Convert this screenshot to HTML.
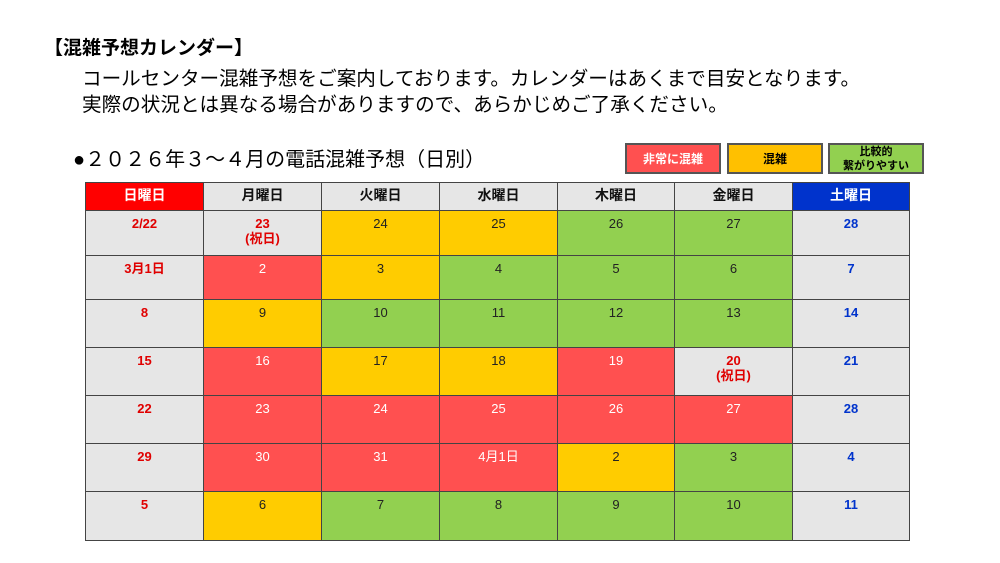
<!DOCTYPE html>
<html><head><meta charset="utf-8"><style>
body{margin:0;width:1000px;height:563px;background:#fff;position:relative;overflow:hidden;font-family:"Liberation Sans","Noto Sans CJK JP",sans-serif;}
.a{position:absolute;white-space:nowrap}
.c{position:absolute;box-sizing:border-box;border:1px solid #444;text-align:center;font-size:13px;color:#222;padding-top:5px;line-height:15px}
.gr{background:#e6e6e6}.r{background:#ff5050;color:#fff}.y{background:#ffcc00}.g{background:#92d050}
.sun{color:#e00000;font-weight:bold}.sat{color:#0033cc;font-weight:bold}
.h{font-weight:bold;font-size:14px;padding-top:5px}
.lg{position:absolute;box-sizing:border-box;border:2px solid #555;top:143px;height:31px;text-align:center;font-weight:bold;font-size:12px;display:flex;align-items:center;justify-content:center;line-height:14px}
</style></head><body>
<div class="a" style="left:44px;top:33px;font-size:19px;font-weight:bold">【混雑予想カレンダー】</div>
<div class="a" style="left:82px;top:62px;font-size:19.6px">コールセンター混雑予想をご案内しております。カレンダーはあくまで目安となります。</div>
<div class="a" style="left:82px;top:88px;font-size:19.6px">実際の状況とは異なる場合がありますので、あらかじめご了承ください。</div>
<div class="a" style="left:73px;top:143px;font-size:20px">●２０２６年３～４月の電話混雑予想（日別）</div>
<div class="lg" style="left:625px;width:96px;background:#ff5050;color:#fff">非常に混雑</div>
<div class="lg" style="left:727px;width:96px;background:#ffc000">混雑</div>
<div class="lg" style="left:828px;width:96px;background:#92d050;font-size:11px">比較的<br>繋がりやすい</div>
<div id="t"></div>
<script>
var xs=[85,203,321,439,557,674,792,909];
var ys=[182,210,255,299,347,395,443,491,540];
var hd=["日曜日","月曜日","火曜日","水曜日","木曜日","金曜日","土曜日"];
var rows=[
[["gr sun","2/22"],["gr sun","23<br>(祝日)"],["y","24"],["y","25"],["g","26"],["g","27"],["gr sat","28"]],
[["gr sun","3月1日"],["r","2"],["y","3"],["g","4"],["g","5"],["g","6"],["gr sat","7"]],
[["gr sun","8"],["y","9"],["g","10"],["g","11"],["g","12"],["g","13"],["gr sat","14"]],
[["gr sun","15"],["r","16"],["y","17"],["y","18"],["r","19"],["gr sun","20<br>(祝日)"],["gr sat","21"]],
[["gr sun","22"],["r","23"],["r","24"],["r","25"],["r","26"],["r","27"],["gr sat","28"]],
[["gr sun","29"],["r","30"],["r","31"],["r","4月1日"],["y","2"],["g","3"],["gr sat","4"]],
[["gr sun","5"],["y","6"],["g","7"],["g","8"],["g","9"],["g","10"],["gr sat","11"]]];
var h="";
for(var i=0;i<7;i++){var st=i==0?"background:#ff0000;color:#fff":i==6?"background:#0033cc;color:#fff":"background:#e6e6e6;color:#111";
h+='<div class="c h" style="left:'+xs[i]+'px;top:'+ys[0]+'px;width:'+(xs[i+1]-xs[i]+1)+'px;height:'+(ys[1]-ys[0]+1)+'px;'+st+'">'+hd[i]+'</div>';}
for(var r=0;r<7;r++)for(var i=0;i<7;i++){var d=rows[r][i];
h+='<div class="c '+d[0]+'" style="left:'+xs[i]+'px;top:'+ys[r+1]+'px;width:'+(xs[i+1]-xs[i]+1)+'px;height:'+(ys[r+2]-ys[r+1]+1)+'px">'+d[1]+'</div>';}
document.getElementById("t").innerHTML=h;
</script>
</body></html>
